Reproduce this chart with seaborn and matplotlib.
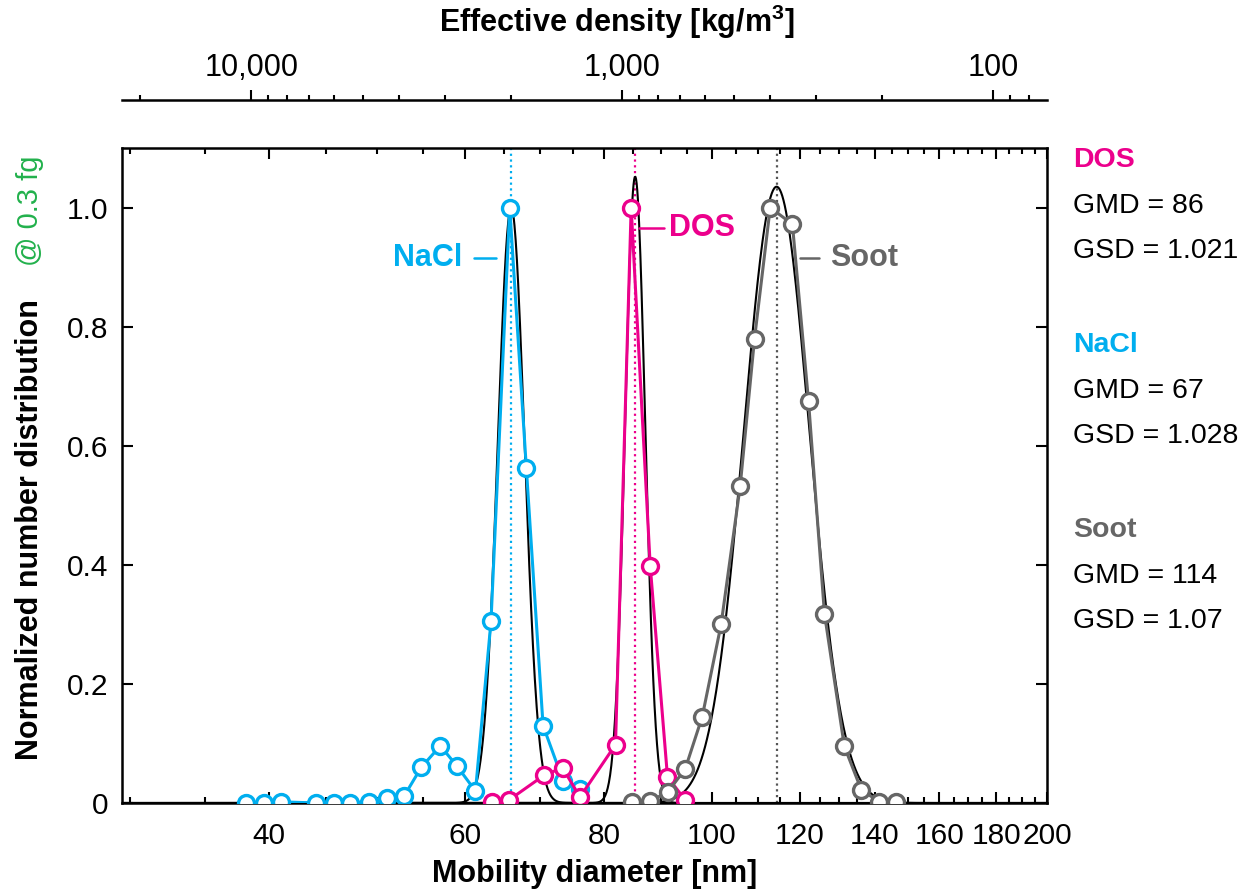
import numpy as np
import pandas as pd
import matplotlib
matplotlib.use("Agg")
import matplotlib.pyplot as plt
import seaborn as sns
from matplotlib.ticker import FixedLocator, FuncFormatter, NullFormatter, LogLocator

# ---------------- data ----------------
nacl_d = [38.1, 39.6, 41.0, 44.1, 45.7, 47.3, 49.2, 51.0, 52.9, 54.8, 57.0, 59.0,
          61.3, 63.3, 65.8, 68.1, 70.5, 73.5, 76.1]
nacl_n = [0.0, 0.0, 0.002, 0.0, 0.0, 0.0, 0.002, 0.008, 0.012, 0.06, 0.096, 0.062,
          0.02, 0.305, 1.0, 0.563, 0.13, 0.037, 0.024]

dos_d = [63.4, 65.7, 70.7, 73.4, 76.1, 81.9, 84.6, 88.0, 91.2, 94.6]
dos_n = [0.002, 0.005, 0.047, 0.059, 0.01, 0.098, 1.0, 0.398, 0.044, 0.005]

soot_d = [84.8, 88.0, 91.3, 94.6, 98.0, 101.9, 106.0, 109.2, 112.8, 118.1, 122.1,
          126.2, 131.5, 136.2, 141.4, 146.2]
soot_n = [0.002, 0.003, 0.019, 0.057, 0.145, 0.30, 0.532, 0.78, 1.0, 0.972, 0.675,
          0.318, 0.095, 0.022, 0.002, 0.002]

species = ["DOS", "NaCl", "Soot"]
gmd_label = [86, 67, 114]
gsd_label = ["1.021", "1.028", "1.07"]
fit_center = [85.3, 66.0, 114.3]      # centre of the drawn log-normal fits
fit_gsd = [1.021, 1.028, 1.07]
fit_peak = [1.052, 1.0, 1.035]

x_major = [40, 60, 80, 100, 120, 140, 160, 180, 200]
y_major = [0, 0.2, 0.4, 0.6, 0.8, 1.0]
y_labels = ["0", "0.2", "0.4", "0.6", "0.8", "1.0"]
rho_major = [10000, 1000, 100]
particle_mass_fg = 0.3

colors = {"NaCl": "#00AEEF", "DOS": "#EC008C", "Soot": "#666666"}
vline_colors = {"NaCl": "#00AEEF", "DOS": "#EC008C", "Soot": "#555555"}
green = "#22B14C"

# ---------------- style ----------------
sns.set_style("ticks")
plt.rcParams['font.family'] = ['Liberation Sans', 'DejaVu Sans']
for k in ['text.color', 'axes.labelcolor', 'xtick.color', 'ytick.color', 'axes.edgecolor']:
    plt.rcParams[k] = 'black'

fig = plt.figure(figsize=(12.38, 8.89), dpi=100)
ax = fig.add_axes([122/1238, 1-803/889, 925/1238, 655/889])

ax.set_xscale('log')
XMIN, XMAX = 29.5, 200

# fitted log-normal curves
dgrid = np.geomspace(XMIN, XMAX, 1500)
for sp, c, g, a in zip(species, fit_center, fit_gsd, fit_peak):
    fit = a * np.exp(-(np.log(dgrid / c)) ** 2 / (2 * np.log(g) ** 2))
    sns.lineplot(x=dgrid, y=fit, ax=ax, color='black', linewidth=1.5,
                 sort=False, estimator=None, zorder=2)

# dotted vertical GMD lines
for sp, c in zip(species, fit_center):
    ax.axvline(c, color=vline_colors[sp], linestyle=(0, (1, 1.6)), linewidth=1.6, zorder=1)

# measured data
series = {"NaCl": (nacl_d, nacl_n), "DOS": (dos_d, dos_n), "Soot": (soot_d, soot_n)}
for sp in ["NaCl", "DOS", "Soot"]:
    d, n = series[sp]
    df = pd.DataFrame({"d": d, "n": n})
    sns.lineplot(data=df, x="d", y="n", ax=ax, color=colors[sp], linewidth=2.2,
                 marker='o', markersize=11.5, markerfacecolor='white',
                 markeredgecolor=colors[sp], markeredgewidth=2.4,
                 sort=False, estimator=None, zorder=3)

ax.set_xlim(XMIN, XMAX)
ax.set_ylim(0, 1.1)

ax.xaxis.set_major_locator(FixedLocator(x_major))
ax.xaxis.set_major_formatter(FuncFormatter(lambda v, p: f"{v:g}"))
ax.xaxis.set_minor_locator(FixedLocator([v for v in range(30, 201, 5) if v not in x_major]))
ax.xaxis.set_minor_formatter(NullFormatter())
ax.set_yticks(y_major)
ax.set_yticklabels(y_labels)

for s in ax.spines.values():
    s.set_visible(True)
    s.set_linewidth(1.8)
    s.set_color('black')

ax.tick_params(which='both', direction='in', top=True, right=True, width=1.5, colors='black')
ax.tick_params(which='major', length=8, labelsize=21.5)
ax.tick_params(axis='x', which='major', pad=14)
ax.tick_params(axis='y', which='major', pad=10)
ax.tick_params(which='minor', length=4)

ax.set_xlabel("Mobility diameter [nm]", fontsize=22, fontweight='bold', labelpad=8)
ax.xaxis.set_label_coords((595 - 122) / 925, -0.085)
ax.set_ylabel("")

# y label (two colours)
ax.text(-0.0995, (803-530)/655, "Normalized number distribution", transform=ax.transAxes,
        rotation=90, ha='center', va='center', fontsize=22, fontweight='bold', color='black')
ax.text(-0.0995, (803-211)/655, "@ 0.3 fg", transform=ax.transAxes,
        rotation=90, ha='center', va='center', fontsize=21, color=green)

# secondary (effective density) axis
K = 6 * particle_mass_fg * 1e-18 / np.pi * 1e27   # kg/m3 * nm^3


def d2rho(d):
    d = np.asarray(d, dtype=float)
    with np.errstate(divide='ignore', invalid='ignore'):
        return K / d ** 3


def rho2d(r):
    r = np.asarray(r, dtype=float)
    with np.errstate(divide='ignore', invalid='ignore'):
        return np.cbrt(K / r)


sec = ax.secondary_xaxis(1 + 48/655, functions=(d2rho, rho2d))
sec.xaxis.set_major_locator(FixedLocator(rho_major))
sec.xaxis.set_major_formatter(FuncFormatter(lambda v, p: f"{v:,.0f}"))
sec.xaxis.set_minor_locator(LogLocator(base=10, subs=np.arange(2, 10), numticks=50))
sec.xaxis.set_minor_formatter(NullFormatter())
sec.spines['top'].set_linewidth(1.8)
sec.tick_params(which='both', direction='out', width=1.5, colors='black')
sec.tick_params(which='major', length=7, labelsize=22, pad=5)
sec.tick_params(which='minor', length=3.5)
sec.set_xlabel("Effective density [kg/m$^{\\mathregular{3}}$]", fontsize=22,
               fontweight='bold')
sec.xaxis.set_label_coords((617 - 122) / 925, 1 + (803 - 22) / 655 - 1 + 0.0)
sec.xaxis.label.set_va('center')
sec.xaxis.label.set_transform(ax.transAxes)

# inline labels
ann = [("NaCl", 59.6, 61.1, 64.0, 0.916, 'right'),
       ("DOS", 91.5, 86.0, 90.5, 0.965, 'left'),
       ("Soot", 127.7, 119.9, 124.8, 0.916, 'left')]
for name, tx, l0, l1, yy, ha in ann:
    ax.text(tx, yy, name, color=colors[name], fontsize=22, fontweight='bold',
            ha=ha, va='center')
    ax.plot([l0, l1], [yy, yy], color=colors[name], linewidth=1.8)

# right-hand summary text
ypos = [(160, 206, 251), (345, 391, 436), (530, 576, 621)]
for sp, g, s, (y0, y1, y2) in zip(species, gmd_label, gsd_label, ypos):
    xt = (1073 - 122) / 925
    ax.text(xt, (803 - y0) / 655, sp, transform=ax.transAxes, color=colors[sp],
            fontsize=20.5, fontweight='bold', va='center', ha='left')
    ax.text(xt, (803 - y1) / 655, f"GMD = {g}", transform=ax.transAxes, color='black',
            fontsize=20.5, va='center', ha='left')
    ax.text(xt, (803 - y2) / 655, f"GSD = {s}", transform=ax.transAxes, color='black',
            fontsize=20.5, va='center', ha='left')

fig.savefig("out.png", dpi=100)
